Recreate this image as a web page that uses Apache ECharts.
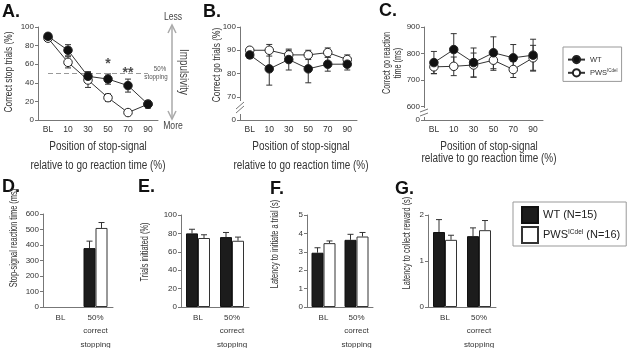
<!DOCTYPE html>
<html>
<head>
<meta charset="utf-8">
<script src="https://cdn.jsdelivr.net/npm/echarts@6/dist/echarts.min.js"></script>
<style>
  html, body { margin: 0; padding: 0; background: #fff; }
  #fig { width: 633px; height: 348px; }
</style>
</head>
<body>
<div id="fig"></div>
<script>
// data
const lineCats = ['BL', '10', '30', '50', '70', '90'];
const barCats = ['BL', '50%\ncorrect\nstopping'];

// A. correct stop trials (%)
const stopWT = [90, 75, 47, 44, 37, 17];
const stopWTErr = [1.5, 6, 5, 5.5, 7, 4];
const stopPWS = [88, 62, 43, 24, 8, 17];
const stopPWSErr = [1.5, 6, 8, 4, 1.5, 4];
const stars = [['50', 60, '*'], ['70', 50, '**']];

// B. correct go trials (%)
const goWT = [88, 82, 86, 82, 84, 84];
const goWTErr = [1.5, 7, 4.5, 6, 3, 2.5];
const goPWS = [90, 90, 88, 88, 89, 86];
const goPWSErr = [1, 2.5, 2, 2, 2, 2];

// C. correct go reaction time (ms)
const rtWT = [766, 815, 766, 803, 784, 794];
const rtWTErr = [42, 60, 55, 60, 50, 60];
const rtPWS = [750, 752, 757, 775, 740, 784];
const rtPWSErr = [25, 35, 45, 38, 30, 47];

// D-G bars
const ssrtWT = [null, 380], ssrtWTErr = [null, 45];
const ssrtPWS = [null, 510], ssrtPWSErr = [null, 35];
const initWT = [80, 76], initWTErr = [4.5, 5];
const initPWS = [75, 72], initPWSErr = [3.5, 4];
const latInitWT = [2.95, 3.65], latInitWTErr = [0.27, 0.3];
const latInitPWS = [3.47, 3.83], latInitPWSErr = [0.12, 0.22];
const latRewWT = [1.63, 1.54], latRewWTErr = [0.27, 0.18];
const latRewPWS = [1.46, 1.67], latRewPWSErr = [0.1, 0.21];

const FONT = "'Liberation Sans',Arial,sans-serif";
const AX = '#777';
const TXT = '#333';

const grids = [
  {left: 38, top: 27, width: 120, height: 93},
  {left: 240, top: 27, width: 117, height: 93},
  {left: 424, top: 27, width: 119, height: 93},
  {left: 43, top: 214, width: 70, height: 93},
  {left: 181, top: 215, width: 68, height: 92},
  {left: 307, top: 215, width: 66, height: 92},
  {left: 428, top: 215, width: 68, height: 92}
].map((g) => Object.assign({outerBoundsMode: 'none', containLabel: false}, g));

function xAx(i, cats) {
  const isBar = cats === barCats;
  return {
    type: 'category', gridIndex: i, data: cats, boundaryGap: true,
    axisLine: {lineStyle: {color: AX}},
    axisTick: {alignWithLabel: true, length: 3, lineStyle: {color: AX}},
    axisLabel: {
      fontSize: isBar ? 8 : 8.5, color: TXT, fontFamily: FONT, interval: 0,
      margin: isBar ? 4 : 5, lineHeight: isBar ? 13.5 : 10
    }
  };
}

function yAx(i, o) {
  return Object.assign({
    type: 'value', gridIndex: i,
    splitLine: {show: false},
    axisLine: {show: true, lineStyle: {color: AX}},
    axisTick: {show: true, length: 3, lineStyle: {color: AX}},
    axisLabel: {fontSize: 8, color: TXT, fontFamily: FONT, margin: 4}
  }, o);
}

const xAxes = [
  xAx(0, lineCats), xAx(1, lineCats), xAx(2, lineCats),
  xAx(3, barCats), xAx(4, barCats), xAx(5, barCats), xAx(6, barCats)
];

const yAxes = [
  yAx(0, {min: 0, max: 100, interval: 20}),
  yAx(1, {min: 60, max: 100, interval: 10}),
  yAx(2, {min: 550, max: 900}),
  yAx(3, {min: 0, max: 600, interval: 100}),
  yAx(4, {min: 0, max: 100, interval: 20}),
  yAx(5, {min: 0, max: 5, interval: 1}),
  yAx(6, {min: 0, max: 2, interval: 1})
];
yAxes[1].axisLabel.formatter = (v) => (v === 60 ? '0' : String(v));
yAxes[2].axisLabel.customValues = [550, 600, 700, 800, 900];
yAxes[2].axisTick.customValues = [550, 600, 700, 800, 900];
yAxes[2].axisLabel.formatter = (v) => (v === 550 ? '0' : String(v));

function errRender(offset, upOnly) {
  return function (params, api) {
    const m = api.value(1), e = api.value(2);
    if (isNaN(m) || isNaN(e)) return;
    const x = api.value(0);
    const top = api.coord([x, m + e]);
    const bot = api.coord([x, upOnly ? m : m - e]);
    const cx = top[0] + offset;
    const st = {stroke: '#333', lineWidth: 1};
    const kids = [
      {type: 'line', shape: {x1: cx, y1: top[1], x2: cx, y2: bot[1]}, style: st},
      {type: 'line', shape: {x1: cx - 3, y1: top[1], x2: cx + 3, y2: top[1]}, style: st}
    ];
    if (!upOnly) kids.push({type: 'line', shape: {x1: cx - 3, y1: bot[1], x2: cx + 3, y2: bot[1]}, style: st});
    return {type: 'group', children: kids};
  };
}

function errSeries(i, vals, errs, offset, upOnly) {
  return {
    type: 'custom', xAxisIndex: i, yAxisIndex: i, z: 3, silent: true,
    renderItem: errRender(offset, upOnly),
    encode: {x: 0, y: 1},
    data: vals.map((v, k) => [k, v == null ? '-' : v, errs[k] == null ? '-' : errs[k]])
  };
}

function lineSeries(i, name, vals, filled) {
  return {
    name: name, type: 'line', xAxisIndex: i, yAxisIndex: i, z: 5,
    data: vals, symbol: 'circle', symbolSize: 8.5, showAllSymbol: true,
    lineStyle: {color: '#333', width: 1},
    itemStyle: {color: filled ? '#111' : '#fff', borderColor: '#222', borderWidth: 1},
    emphasis: {disabled: true}
  };
}

function barSeries(i, name, vals, filled) {
  return {
    name: name, type: 'bar', xAxisIndex: i, yAxisIndex: i, z: 2,
    data: vals, barWidth: 12, barGap: '0%',
    itemStyle: {color: filled ? '#1c1c1c' : '#fff', borderColor: filled ? '#111' : '#333', borderWidth: 1},
    emphasis: {disabled: true}
  };
}

const series = [];
const linePanels = [
  [stopWT, stopWTErr, stopPWS, stopPWSErr],
  [goWT, goWTErr, goPWS, goPWSErr],
  [rtWT, rtWTErr, rtPWS, rtPWSErr]
];
linePanels.forEach((p, i) => {
  series.push(errSeries(i, p[0], p[1], 0, false));
  series.push(errSeries(i, p[2], p[3], 0, false));
  series.push(lineSeries(i, 'PWS', p[2], false));
  series.push(lineSeries(i, 'WT', p[0], true));
});
series[3].markLine = {
  silent: true, symbol: 'none', label: {show: false},
  lineStyle: {color: '#999', type: [5, 3], width: 1},
  data: [[{coord: [-0.5, 50]}, {coord: [4.7, 50]}]]
};
series.push({
  type: 'scatter', xAxisIndex: 0, yAxisIndex: 0, symbolSize: 0, silent: true,
  data: stars.map((s) => ({value: [s[0], s[1]], label: {formatter: s[2]}})),
  label: {show: true, position: 'inside', fontSize: 14, fontWeight: 'bold', color: '#222', fontFamily: FONT}
});

const barPanels = [
  [ssrtWT, ssrtWTErr, ssrtPWS, ssrtPWSErr],
  [initWT, initWTErr, initPWS, initPWSErr],
  [latInitWT, latInitWTErr, latInitPWS, latInitPWSErr],
  [latRewWT, latRewWTErr, latRewPWS, latRewPWSErr]
];
barPanels.forEach((p, k) => {
  const i = k + 3;
  series.push(barSeries(i, 'WT (N=15)', p[0], true));
  series.push(barSeries(i, 'PWS (N=16)', p[2], false));
  series.push(errSeries(i, p[0], p[1], -6, true));
  series.push(errSeries(i, p[2], p[3], 6, true));
});

// the figure's type is condensed: squeeze text along its baseline
function txt(x, y, text, size, opt) {
  opt = opt || {};
  return {
    type: 'text', x: x, y: y, silent: true,
    rotation: opt.rotation || 0,
    scaleX: opt.sx || 0.82,
    style: Object.assign({
      text: text, fontSize: size, fontFamily: FONT, fill: TXT,
      align: 'center', verticalAlign: 'middle'
    }, opt.style || {})
  };
}
function title(x, y, t) {
  return txt(x, y, t, 18, {sx: 1, style: {fontWeight: 'bold', fill: '#111', align: 'left'}});
}
const UP = Math.PI / 2;
const topY = {rotation: UP, sx: 0.76};
const botY = {rotation: UP, sx: 0.74};

function brk(ax, y0, y1) {
  return [
    {type: 'rect', shape: {x: ax - 3, y: y0, width: 6, height: y1 - y0}, style: {fill: '#fff'}, z: 50, silent: true},
    {type: 'line', shape: {x1: ax - 4, y1: y1 - 5, x2: ax + 4, y2: y0 + 1}, style: {stroke: AX, lineWidth: 1}, z: 51, silent: true},
    {type: 'line', shape: {x1: ax - 4, y1: y1 - 1, x2: ax + 4, y2: y0 + 5}, style: {stroke: AX, lineWidth: 1}, z: 51, silent: true}
  ];
}

const graphics = [
  title(2, 12, 'A.'), title(203, 12, 'B.'), title(379, 11, 'C.'),
  title(2, 187, 'D.'), title(138, 187, 'E.'), title(270, 189, 'F.'), title(395, 189, 'G.'),

  txt(98, 147, 'Position of stop-signal', 12, {sx: 0.83}),
  txt(98, 166, 'relative to go reaction time (%)', 12, {sx: 0.83}),
  txt(301, 147, 'Position of stop-signal', 12, {sx: 0.83}),
  txt(301, 166, 'relative to go reaction time (%)', 12, {sx: 0.83}),
  txt(489, 147, 'Position of stop-signal', 12, {sx: 0.83}),
  txt(489, 159, 'relative to go reaction time (%)', 12, {sx: 0.83}),

  txt(9, 72, 'Correct stop trials (%)', 11, topY),
  txt(217, 65, 'Correct go trials (%)', 11, topY),
  txt(387, 63, 'Correct go reaction', 10, {rotation: UP, sx: 0.73}),
  txt(398, 63, 'time (ms)', 10, {rotation: UP, sx: 0.73}),
  txt(14, 238, 'Stop-signal reaction time (ms)', 10, botY),
  txt(145, 252, 'Trials initiated (%)', 10, botY),
  txt(275, 244, 'Latency to initiate a trial (s)', 10, botY),
  txt(407, 243, 'Latency to collect reward (s)', 10, botY),

  txt(160, 69, '50%', 7.5, {style: {fill: '#555'}}),
  txt(156, 77, 'stopping', 7.5, {style: {fill: '#555'}}),

  txt(173, 17, 'Less', 10.5, {style: {fill: '#444'}}),
  txt(173, 126, 'More', 10.5, {style: {fill: '#444'}}),
  txt(183, 72, 'Impulsivity', 12, {rotation: -UP, style: {fill: '#444'}}),
  {type: 'line', silent: true, shape: {x1: 172, y1: 26, x2: 172, y2: 118}, style: {stroke: '#aaa', lineWidth: 1.5}},
  {type: 'polyline', silent: true, shape: {points: [[168, 33], [172, 25], [176, 33]]}, style: {stroke: '#aaa', lineWidth: 1.5, fill: null}},
  {type: 'polyline', silent: true, shape: {points: [[168, 111], [172, 119], [176, 111]]}, style: {stroke: '#aaa', lineWidth: 1.5, fill: null}}
].concat(brk(240, 101, 114), brk(424, 108, 117));

const chart = echarts.init(document.getElementById('fig'), null, {renderer: 'canvas'});
chart.setOption({
  backgroundColor: '#fff',
  animation: false,
  grid: grids,
  xAxis: xAxes,
  yAxis: yAxes,
  legend: [
    {
      data: ['WT', 'PWS'], orient: 'vertical', left: 563, top: 47,
      padding: [8, 4, 4, 4], itemGap: 4, itemWidth: 17, itemHeight: 9,
      borderColor: '#999', borderWidth: 1, selectedMode: false,
      textStyle: {fontSize: 7.5, color: TXT, fontFamily: FONT,
        rich: {sup: {fontSize: 4.5, fontFamily: FONT, color: TXT, verticalAlign: 'top', padding: [0, 0, 4, 0]}}},
      formatter: (n) => (n === 'PWS' ? 'PWS{sup|ICdel}' : n)
    },
    {
      data: ['WT (N=15)', 'PWS (N=16)'], orient: 'vertical', left: 513, top: 202,
      padding: [4, 6, 2, 8], itemGap: 2, itemWidth: 16, itemHeight: 16, icon: 'rect',
      borderColor: '#999', borderWidth: 1, selectedMode: false,
      textStyle: {fontSize: 11, color: '#222', fontFamily: FONT,
        rich: {sup: {fontSize: 6.5, fontFamily: FONT, color: '#222', verticalAlign: 'top', padding: [0, 0, 5, 0]}}},
      formatter: (n) => (n === 'PWS (N=16)' ? 'PWS{sup|ICdel} (N=16)' : n)
    }
  ],
  graphic: graphics,
  series: series
});
</script>
</body>
</html>
